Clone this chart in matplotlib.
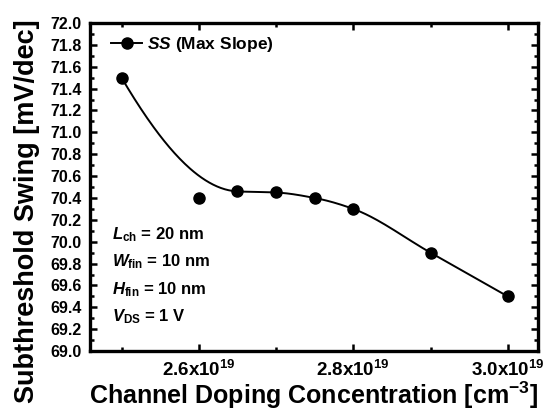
import matplotlib
matplotlib.use('Agg')
import matplotlib.pyplot as plt
from matplotlib.ticker import MultipleLocator, FixedLocator, FormatStrFormatter
import numpy as np

# data (doping in 1e19 cm^-3)
doping = [2.5, 2.6, 2.65, 2.7, 2.75, 2.8, 2.9, 3.0]
ss = [71.5, 70.4, 70.46, 70.45, 70.4, 70.3, 69.9, 69.5]
# points the smooth guide line runs through (the 2.6 point lies off the curve)
fit_idx = [0, 2, 3, 4, 5, 6, 7]

xticks = [2.6, 2.8, 3.0]
xtick_labels = ['2.6x10$^{19}$', '2.8x10$^{19}$', '3.0x10$^{19}$']
notes = [r'$\it{L}_{\rm ch}$ = 20 nm', r'$\it{W}_{\rm fin}$ = 10 nm',
         r'$\it{H}_{\rm fin}$ = 10 nm', r'$\it{V}_{\rm DS}$ = 1 V']

plt.rcParams['font.family'] = ['Liberation Sans', 'DejaVu Sans']
plt.rcParams['font.weight'] = 'bold'
plt.rcParams['axes.labelweight'] = 'bold'
plt.rcParams['mathtext.fontset'] = 'custom'
plt.rcParams['mathtext.rm'] = 'Liberation Sans:bold'
plt.rcParams['mathtext.bf'] = 'Liberation Sans:bold'
plt.rcParams['mathtext.it'] = 'Liberation Sans:italic:bold'


def pchip(x, y, xn):
	x = np.asarray(x, float); y = np.asarray(y, float)
	h = np.diff(x); d = np.diff(y) / h
	m = np.zeros_like(y)
	for k in range(1, len(x) - 1):
		if d[k-1] * d[k] > 0:
			w1 = 2*h[k] + h[k-1]; w2 = h[k] + 2*h[k-1]
			m[k] = (w1 + w2) / (w1/d[k-1] + w2/d[k])
	def end(h0, h1, d0, d1):
		v = ((2*h0 + h1)*d0 - h0*d1) / (h0 + h1)
		if np.sign(v) != np.sign(d0):
			v = 0
		elif np.sign(d0) != np.sign(d1) and abs(v) > abs(3*d0):
			v = 3*d0
		return v
	m[0] = end(h[0], h[1], d[0], d[1])
	m[-1] = end(h[-1], h[-2], d[-1], d[-2])
	i = np.clip(np.searchsorted(x, xn) - 1, 0, len(x) - 2)
	t = (xn - x[i]) / h[i]
	h00 = 2*t**3 - 3*t**2 + 1; h10 = t**3 - 2*t**2 + t
	h01 = -2*t**3 + 3*t**2; h11 = t**3 - t**2
	return h00*y[i] + h10*h[i]*m[i] + h01*y[i+1] + h11*h[i]*m[i+1]


fig = plt.figure(figsize=(5.58, 4.17), dpi=100)
ax = fig.add_axes([0.161, 0.158, 0.803, 0.787])

fx = [doping[i] for i in fit_idx]
fy = [ss[i] for i in fit_idx]
xs = np.linspace(fx[0], fx[-1], 300)
ax.plot(xs, pchip(fx, fy, xs), color='black', lw=1.4)
ax.plot(doping, ss, 'o', color='black', ms=8)
# legend handle: line with marker
ax.plot([], [], '-o', color='black', ms=8, lw=1.4, label=r'$\it{SS}$ (Max Slope)')
ax.legend(loc='center left', bbox_to_anchor=(0.048, 0.933), frameon=False,
          fontsize=12.5, handlelength=1.75, borderaxespad=0, borderpad=0,
          handletextpad=0.3)

ax.set_xlim(2.459, 3.039)
ax.set_ylim(69.0, 72.0)
ax.xaxis.set_major_locator(FixedLocator(xticks))
ax.set_xticklabels(xtick_labels)
ax.xaxis.set_minor_locator(FixedLocator([2.5, 2.7, 2.9]))
ax.yaxis.set_major_locator(MultipleLocator(0.2))
ax.yaxis.set_minor_locator(MultipleLocator(0.1))
ax.yaxis.set_major_formatter(FormatStrFormatter('%.1f'))

ax.tick_params(which='both', direction='in', top=True, right=True, width=1.8)
ax.tick_params(which='major', length=5)
ax.tick_params(which='minor', length=3)
ax.tick_params(axis='x', labelsize=13.5, pad=6)
ax.tick_params(axis='y', labelsize=11.5, pad=6)
for s in ax.spines.values():
	s.set_linewidth(2.4)

ax.set_xlabel('Channel Doping Concentration [cm$^{-3}$]', fontsize=18, labelpad=0)
ax.set_ylabel('Subthreshold Swing [mV/dec]', fontsize=19.5)
ax.yaxis.set_label_coords(-0.112, 0.425)

for k, txt in enumerate(notes):
	ax.text(0.049, 0.356 - k*0.084, txt, transform=ax.transAxes, fontsize=12,
	        va='center', ha='left')

fig.savefig('out.png', dpi=100)
